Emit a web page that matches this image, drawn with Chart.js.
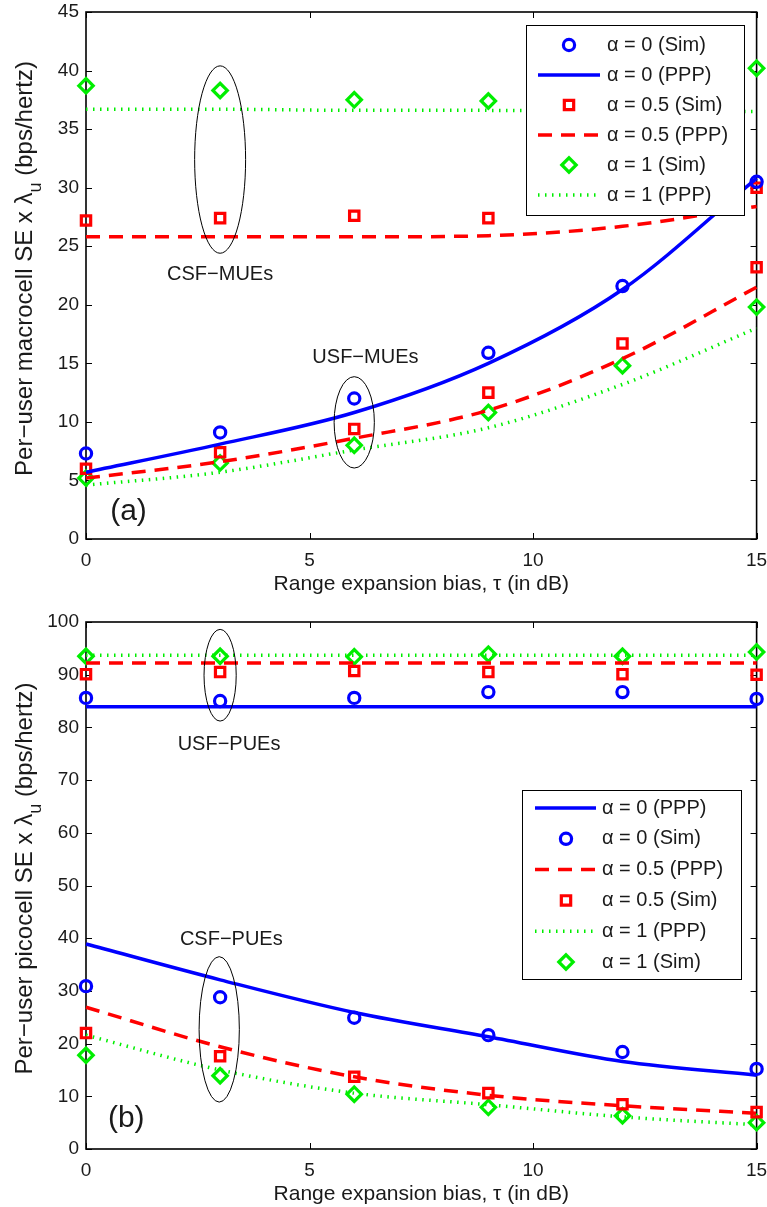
<!DOCTYPE html>
<html>
<head>
<meta charset="utf-8">
<script src="https://cdn.jsdelivr.net/npm/chart.js@4.4.1/dist/chart.umd.min.js"></script>
<style>
    body { margin: 0; background: #fff; width: 767px; height: 1207px; position: relative; overflow: hidden; }
    .khung { position: absolute; left: 0; width: 767px; height: 597px; }
</style>
</head>
<body>
<div class="khung" style="top:0"><canvas id="bieuDoMacro"></canvas></div>
<div class="khung" style="top:610px"><canvas id="bieuDoPico"></canvas></div>
<script>
// Truc hoanh: do lech mo rong vung phu (dB)
const tau = [0, 3, 6, 9, 12, 15];

// (a) Per-user macrocell SE
const macroA0Sim = [7.3, 9.1, 12.0, 15.9, 21.6, 30.5];
const macroA0Ppp = [5.7, 8.1, 10.8, 15.0, 21.3, 30.8];
const macroA05SimCsf = [27.2, 27.4, 27.6, 27.4, null, 30.0];
const macroA05PppCsf = [25.8, 25.8, 25.8, 25.9, 26.7, 28.4];
const macroA1SimCsf = [38.7, 38.3, 37.5, 37.4, null, 40.2];
const macroA1PppCsf = [36.7, 36.7, 36.6, 36.6, 36.5, 36.5];
const macroA05SimUsf = [6.0, 7.4, 9.4, 12.5, 16.7, 23.2];
const macroA05PppUsf = [5.2, 6.6, 8.6, 11.0, 15.4, 21.5];
const macroA1SimUsf = [5.2, 6.5, 8.0, 10.8, 14.8, 19.8];
const macroA1PppUsf = [4.6, 5.7, 7.6, 9.5, 13.2, 18.0];

// (b) Per-user picocell SE
const picoA0Ppp = [83.9, 83.9, 83.9, 83.9, 83.9, 83.9];
const picoA0Sim = [85.6, 85.0, 85.6, 86.7, 86.7, 85.4];
const picoA05Ppp = [92.2, 92.2, 92.2, 92.2, 92.2, 92.2];
const picoA05Sim = [90.1, 90.5, 90.7, 90.5, 90.1, 90.0];
const picoA1Ppp = [93.7, 93.7, 93.7, 93.7, 93.7, 93.7];
const picoA1Sim = [93.5, 93.5, 93.4, 93.9, 93.5, 94.3];
const picoA0PppCsf = [38.9, 32.1, 25.9, 21.3, 16.6, 14.0];
const picoA0SimCsf = [30.9, 28.8, 24.9, 21.6, 18.4, 15.2];
const picoA05PppCsf = [26.9, 19.4, 13.7, 10.2, 8.2, 6.8];
const picoA05SimCsf = [22.0, 17.6, 13.7, 10.6, 8.5, 7.0];
const picoA1PppCsf = [21.6, 15.0, 10.6, 8.4, 6.1, 4.6];
const picoA1SimCsf = [17.8, 13.9, 10.4, 7.9, 6.3, 5.0];

const FONT = '"Liberation Sans", Arial, Helvetica, sans-serif';
const XANH = '#0000ff';
const DO = '#ff0000';
const LUC = '#00ee00';

function diem(giaTri) {
    return tau.map((t, i) => ({ x: t, y: giaTri[i] }));
}

// kieu diem cho tung mau
const kieuDiem = {
    [XANH]: { pointStyle: 'circle', pointRadius: 5.6 },
    [DO]: { pointStyle: 'rect', pointRadius: 6.6 },
    [LUC]: { pointStyle: 'rectRot', pointRadius: 7.2 }
};

function tapSim(nhan, giaTri, mau, chuGiai) {
    return {
        label: nhan, data: diem(giaTri), showLine: false, chuGiai: chuGiai,
        borderColor: mau, pointBorderColor: mau, pointBackgroundColor: 'rgba(0,0,0,0)',
        pointBorderWidth: 3.2, pointStyle: kieuDiem[mau].pointStyle,
        pointRadius: kieuDiem[mau].pointRadius, clip: false
    };
}

function tapPpp(nhan, giaTri, mau, chuGiai) {
    const net = mau === DO ? [14, 9] : (mau === LUC ? [1.5, 5.5] : []);
    return {
        label: nhan, data: diem(giaTri), chuGiai: chuGiai,
        borderColor: mau, borderWidth: 3.5, borderDash: net,
        borderCapStyle: 'butt', pointRadius: 0, cubicInterpolationMode: 'monotone', clip: false
    };
}

function veDiem(ctx, kieu, r, x, y) {
    ctx.beginPath();
    if (kieu === 'circle') {
        ctx.arc(x, y, r, 0, Math.PI * 2);
    } else if (kieu === 'rect') {
        const s = Math.SQRT1_2 * r;
        ctx.rect(x - s, y - s, 2 * s, 2 * s);
    } else {
        ctx.moveTo(x - r, y);
        ctx.lineTo(x, y - r);
        ctx.lineTo(x + r, y);
        ctx.lineTo(x, y + r);
        ctx.closePath();
    }
    ctx.stroke();
}

// Khung truc, vach chia huong vao trong, tieu de truc tung
const khungPlugin = {
    id: 'khungTruc',
    beforeDatasetsDraw(chart, args, opts) {
        const { ctx, chartArea: ca, scales } = chart;
        ctx.save();
        ctx.strokeStyle = '#000';
        ctx.lineWidth = 1;
        scales.x.ticks.forEach(t => {
            const px = Math.round(scales.x.getPixelForValue(t.value)) + 0.5;
            ctx.beginPath();
            ctx.moveTo(px, ca.bottom); ctx.lineTo(px, ca.bottom - 6);
            ctx.moveTo(px, ca.top); ctx.lineTo(px, ca.top + 6);
            ctx.stroke();
        });
        scales.y.ticks.forEach(t => {
            const py = Math.round(scales.y.getPixelForValue(t.value)) + 0.5;
            ctx.beginPath();
            ctx.moveTo(ca.left, py); ctx.lineTo(ca.left + 6, py);
            ctx.moveTo(ca.right, py); ctx.lineTo(ca.right - 6, py);
            ctx.stroke();
        });
        ctx.lineWidth = 1.6;
        ctx.strokeRect(ca.left, ca.top, ca.right - ca.left, ca.bottom - ca.top);

        // tieu de truc tung co chi so duoi
        ctx.translate(opts.xTieuDe, (ca.top + ca.bottom) / 2 + opts.lechTieuDe);
        ctx.rotate(-Math.PI / 2);
        ctx.fillStyle = '#1a1a1a';
        ctx.textBaseline = 'alphabetic';
        ctx.textAlign = 'left';
        const fLon = '24px ' + FONT, fNho = '18px ' + FONT;
        ctx.font = fLon;
        const w1 = ctx.measureText(opts.tieuDe).width;
        const w3 = ctx.measureText(' (bps/hertz)').width;
        ctx.font = fNho;
        const w2 = ctx.measureText('u').width;
        let u = -(w1 + w2 + w3) / 2;
        ctx.font = fLon;
        ctx.fillText(opts.tieuDe, u, 0);
        u += w1;
        ctx.font = fNho;
        ctx.fillText('u', u, 9);
        u += w2;
        ctx.font = fLon;
        ctx.fillText(' (bps/hertz)', u, 0);
        ctx.restore();
    }
};

// Elip, ghi chu va chu giai
const ghiChuPlugin = {
    id: 'ghiChu',
    afterDatasetsDraw(chart, args, opts) {
        const { ctx, scales } = chart;
        const sx = scales.x, sy = scales.y;
        ctx.save();
        ctx.strokeStyle = '#000';
        ctx.lineWidth = 1;
        opts.elip.forEach(e => {
            const cx = sx.getPixelForValue(e.x), cy = sy.getPixelForValue(e.y);
            const rx = Math.abs(sx.getPixelForValue(e.x + e.rx) - cx);
            const ry = Math.abs(sy.getPixelForValue(e.y + e.ry) - cy);
            ctx.beginPath();
            ctx.ellipse(cx, cy, rx, ry, 0, 0, Math.PI * 2);
            ctx.stroke();
        });
        ctx.fillStyle = '#1a1a1a';
        ctx.textAlign = 'center';
        ctx.textBaseline = 'middle';
        opts.chu.forEach(c => {
            ctx.font = c.co + 'px ' + FONT;
            ctx.fillText(c.text, sx.getPixelForValue(c.x), sy.getPixelForValue(c.y));
        });

        // chu giai
        const g = opts.chuGiai;
        ctx.fillStyle = '#fff';
        ctx.fillRect(g.x, g.y, g.w, g.h);
        ctx.strokeStyle = '#000';
        ctx.lineWidth = 1;
        ctx.strokeRect(g.x + 0.5, g.y + 0.5, g.w, g.h);
        ctx.textAlign = 'left';
        ctx.font = '20px ' + FONT;
        chart.data.datasets.filter(d => d.chuGiai).forEach((d, i) => {
            const cy = g.dong0 + i * g.buoc;
            ctx.strokeStyle = d.borderColor;
            if (d.showLine === false) {
                ctx.lineWidth = d.pointBorderWidth;
                ctx.setLineDash([]);
                veDiem(ctx, d.pointStyle, d.pointRadius, g.xDiem, cy);
            } else {
                ctx.lineWidth = d.borderWidth;
                ctx.setLineDash(d.borderDash);
                ctx.beginPath();
                ctx.moveTo(g.x0, cy);
                ctx.lineTo(g.x1, cy);
                ctx.stroke();
                ctx.setLineDash([]);
            }
            ctx.fillStyle = '#1a1a1a';
            ctx.fillText(d.label, g.xChu, cy);
        });
        ctx.restore();
    }
};

function taoBieuDo(id, datasets, yMax, yStep, tuyChon) {
    const ctx = document.getElementById(id).getContext('2d');
    return new Chart(ctx, {
        type: 'line',
        data: { datasets: datasets },
        plugins: [khungPlugin, ghiChuPlugin],
        options: {
            responsive: true,
            maintainAspectRatio: false,
            animation: false,
            devicePixelRatio: 1,
            events: [],
            layout: { padding: { top: 12, right: 10, left: 0, bottom: 0 } },
            scales: {
                x: {
                    type: 'linear', min: 0, max: 15,
                    grid: { display: false, drawTicks: false },
                    border: { display: false },
                    ticks: { stepSize: 5, padding: 10, color: '#1a1a1a', font: { family: FONT, size: 19 } },
                    title: {
                        display: true, text: 'Range expansion bias, τ (in dB)', color: '#1a1a1a',
                        font: { family: FONT, size: 21 }, padding: { top: 0, bottom: 0 }
                    },
                    afterFit(s) { s.height = 58; s.paddingLeft = 0; s.paddingRight = 0; }
                },
                y: {
                    min: 0, max: yMax,
                    grid: { display: false, drawTicks: false },
                    border: { display: false },
                    ticks: { stepSize: yStep, padding: 7, color: '#1a1a1a', font: { family: FONT, size: 19 } },
                    afterFit(s) { s.width = 86; s.paddingTop = 0; s.paddingBottom = 0; }
                }
            },
            plugins: {
                legend: { display: false },
                tooltip: { enabled: false },
                khungTruc: tuyChon.khung,
                ghiChu: tuyChon.ghiChu
            }
        }
    });
}

taoBieuDo('bieuDoMacro', [
    tapSim('α = 0 (Sim)', macroA0Sim, XANH, true),
    tapPpp('α = 0 (PPP)', macroA0Ppp, XANH, true),
    tapSim('α = 0.5 (Sim)', macroA05SimCsf, DO, true),
    tapPpp('α = 0.5 (PPP)', macroA05PppCsf, DO, true),
    tapSim('α = 1 (Sim)', macroA1SimCsf, LUC, true),
    tapPpp('α = 1 (PPP)', macroA1PppCsf, LUC, true),
    tapSim('α = 0.5 (Sim)', macroA05SimUsf, DO, false),
    tapPpp('α = 0.5 (PPP)', macroA05PppUsf, DO, false),
    tapSim('α = 1 (Sim)', macroA1SimUsf, LUC, false),
    tapPpp('α = 1 (PPP)', macroA1PppUsf, LUC, false)
], 45, 5, {
    khung: { tieuDe: 'Per−user macrocell SE x λ', xTieuDe: 32, lechTieuDe: -7 },
    ghiChu: {
        elip: [
            { x: 3, y: 32.4, rx: 0.57, ry: 8.0 },
            { x: 6, y: 9.96, rx: 0.45, ry: 3.9 }
        ],
        chu: [
            { text: 'CSF−MUEs', x: 3.0, y: 22.6, co: 20 },
            { text: 'USF−MUEs', x: 6.25, y: 15.5, co: 20 },
            { text: '(a)', x: 0.95, y: 2.3, co: 30 }
        ],
        chuGiai: { x: 526, y: 25, w: 218, h: 190, dong0: 45, buoc: 30, x0: 538, x1: 600, xDiem: 569, xChu: 607 }
    }
});

taoBieuDo('bieuDoPico', [
    tapPpp('α = 0 (PPP)', picoA0Ppp, XANH, true),
    tapSim('α = 0 (Sim)', picoA0Sim, XANH, true),
    tapPpp('α = 0.5 (PPP)', picoA05Ppp, DO, true),
    tapSim('α = 0.5 (Sim)', picoA05Sim, DO, true),
    tapPpp('α = 1 (PPP)', picoA1Ppp, LUC, true),
    tapSim('α = 1 (Sim)', picoA1Sim, LUC, true),
    tapPpp('α = 0 (PPP)', picoA0PppCsf, XANH, false),
    tapSim('α = 0 (Sim)', picoA0SimCsf, XANH, false),
    tapPpp('α = 0.5 (PPP)', picoA05PppCsf, DO, false),
    tapSim('α = 0.5 (Sim)', picoA05SimCsf, DO, false),
    tapPpp('α = 1 (PPP)', picoA1PppCsf, LUC, false),
    tapSim('α = 1 (Sim)', picoA1SimCsf, LUC, false)
], 100, 10, {
    khung: { tieuDe: 'Per−user picocell SE x λ', xTieuDe: 32, lechTieuDe: -7 },
    ghiChu: {
        elip: [
            { x: 3, y: 89.9, rx: 0.36, ry: 8.7 },
            { x: 2.98, y: 22.7, rx: 0.45, ry: 13.8 }
        ],
        chu: [
            { text: 'USF−PUEs', x: 3.2, y: 76.7, co: 20 },
            { text: 'CSF−PUEs', x: 3.25, y: 39.7, co: 20 },
            { text: '(b)', x: 0.9, y: 5.7, co: 30 }
        ],
        chuGiai: { x: 522, y: 180, w: 219, h: 189, dong0: 198, buoc: 30.8, x0: 535, x1: 596, xDiem: 566, xChu: 602 }
    }
});
</script>
</body>
</html>
